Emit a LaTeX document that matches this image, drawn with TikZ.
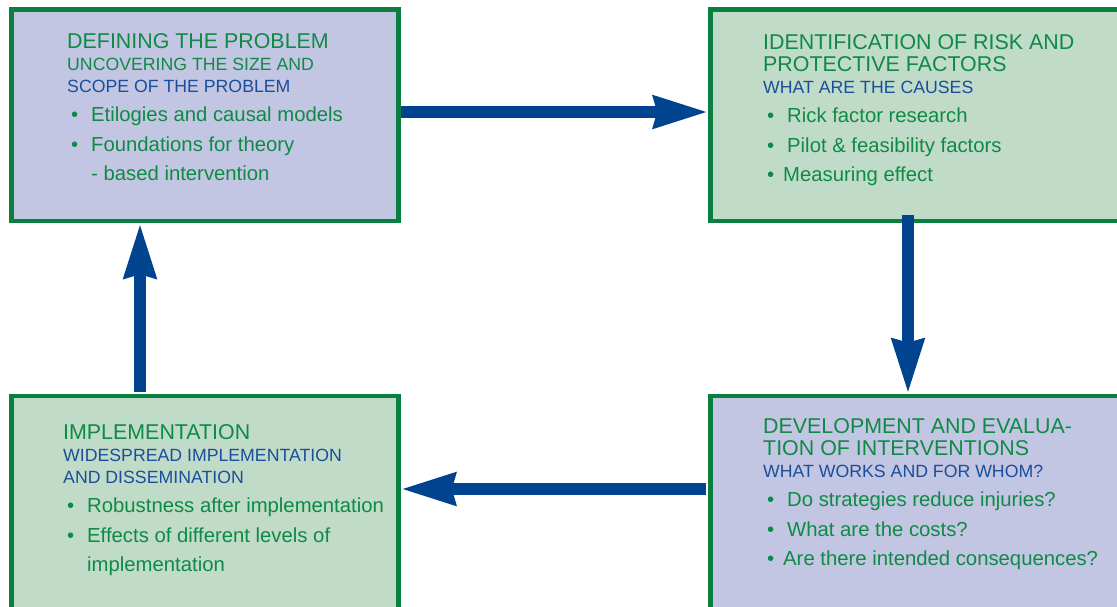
\documentclass[tikz,border=0pt]{standalone}
\usepackage{fontspec}
\setmainfont{Liberation Sans}
\usepackage{xcolor}
\usepackage{tikz}
\usetikzlibrary{arrows.meta}
\definecolor{pgreen}{HTML}{0B7F40}
\definecolor{tgreen}{HTML}{0E8A46}
\definecolor{tblue}{HTML}{1A4E9A}
\definecolor{pblue}{HTML}{00438F}
\definecolor{plavfill}{HTML}{C3C6E2}
\definecolor{pmintfill}{HTML}{C0DCC8}
\tikzset{
  >={Stealth[length=54pt, width=31pt, inset=3pt]},
  pbox/.style={rectangle, draw=pgreen, line width=4.5pt},
  plav/.style={pbox, fill=plavfill},
  pmint/.style={pbox, fill=pmintfill},
  ptext/.style={anchor=base west, inner sep=0pt},
  pflow/.style={->, draw=pblue, fill=pblue, line width=11.5pt},
}
\newcommand{\pttl}{\color{tgreen}\fontsize{21.4}{22}\selectfont}
\newcommand{\psub}{\fontsize{17.7}{22}\selectfont}
\newcommand{\pbody}{\color{tgreen}\fontsize{20.3}{29.5}\selectfont}
\newcommand{\pbul}[1][20pt]{\hspace*{4pt}\makebox[#1][l]{\textbullet}}
\newcommand{\pcol}[1]{\vtop{\hsize=360pt\parindent=0pt\raggedright\leavevmode #1}}

\begin{document}
\begin{tikzpicture}[x=1pt,y=-1pt]
  \useasboundingbox (0,0) rectangle (1117,606);

  % the four stages
  \node[plav,  minimum width=387pt,   minimum height=211.5pt] (def)  at (205,115.25)    {};
  \node[pmint, minimum width=429.5pt, minimum height=211.5pt] (risk) at (925.25,115.25) {};
  \node[pmint, minimum width=387pt,   minimum height=244pt]   (impl) at (205,518)       {};
  \node[plav,  minimum width=429.5pt, minimum height=244pt]   (dev)  at (925.25,518)    {};

  \node[ptext] (deftxt) at (67,48) {\pcol{%
    {\pttl DEFINING THE PROBLEM\par}
    {\psub\color{tgreen}UNCOVERING THE SIZE AND\par}
    {\psub\color{tblue}SCOPE OF THE PROBLEM\par}
    {\pbody\pbul Etilogies and causal models\par
     \pbul Foundations for theory\par
     \hspace*{24pt}- based intervention\par}}};

  \node[ptext] (risktxt) at (763,49) {\pcol{%
    {\pttl IDENTIFICATION OF RISK AND\par PROTECTIVE FACTORS\par}
    {\psub\color{tblue}WHAT ARE THE CAUSES\par}
    {\pbody\pbul Rick factor research\par
     \pbul Pilot \& feasibility factors\par
     \pbul[16pt]Measuring effect\par}}};

  \node[ptext] (impltxt) at (63,439) {\pcol{%
    {\pttl IMPLEMENTATION\par}
    {\psub\color{tblue}WIDESPREAD IMPLEMENTATION\par AND DISSEMINATION\par}
    {\pbody\pbul Robustness after implementation\par
     \pbul Effects of different levels of\par
     \hspace*{24pt}implementation\par}}};

  \node[ptext] (devtxt) at (763,433) {\pcol{%
    {\pttl DEVELOPMENT AND EVALUA-\par TION OF INTERVENTIONS\par}
    {\psub\color{tblue}WHAT WORKS AND FOR WHOM?\par}
    {\pbody\pbul Do strategies reduce injuries?\par
     \pbul What are the costs?\par
     \pbul[16pt]Are there intended consequences?\par}}};

  % the cycle
  \draw[pflow] ([yshift=3.25pt]def.east) -- ([yshift=3.25pt]risk.west);
  \draw[pflow, shorten <=-8pt] ([xshift=-17.25pt]risk.south) -- ([xshift=-17.25pt]dev.north);
  \draw[pflow, shorten <=2pt] ([yshift=29pt]dev.west) -- ([yshift=29pt]impl.east);
  \draw[pflow, shorten <=2pt] ([xshift=-65pt]impl.north) -- ([xshift=-65pt]def.south);

\end{tikzpicture}
\end{document}
